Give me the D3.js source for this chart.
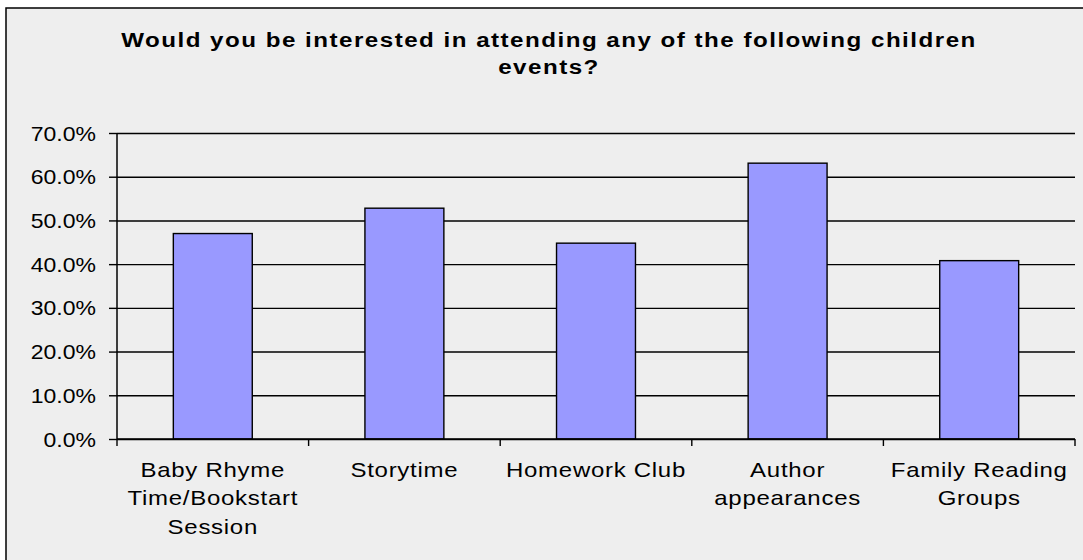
<!DOCTYPE html>
<html>
<head>
<meta charset="utf-8">
<script src="https://cdn.jsdelivr.net/npm/d3@7"></script>
<style>
  html, body { margin: 0; padding: 0; background: #ffffff; }
  svg { display: block; }
  text { font-family: "Liberation Sans", Arial, sans-serif; fill: #000; }
</style>
</head>
<body>
<svg id="chart" width="1083" height="560"></svg>
<script>
// ---- data ----
const titleLines = ["Would you be interested in attending any of the following children", "events?"];
const categories = ["Baby Rhyme Time/Bookstart Session", "Storytime", "Homework Club", "Author appearances", "Family Reading Groups"];
const categoryLabelLines = [["Baby Rhyme", "Time/Bookstart", "Session"], ["Storytime"], ["Homework Club"], ["Author", "appearances"], ["Family Reading", "Groups"]];
const values = [0.470, 0.528, 0.448, 0.631, 0.408];
const yTicks = [0, 0.1, 0.2, 0.3, 0.4, 0.5, 0.6, 0.7];

// ---- layout ----
const svg = d3.select("#chart");
const W = 1083, H = 560;
const plot = { left: 117, right: 1075, top: 133, bottom: 439 };
const sx = 1.2; // horizontal text stretch seen in the reference

// background frame
svg.append("rect")
  .attr("x", 6).attr("y", 8)
  .attr("width", W + 20).attr("height", H + 20)
  .attr("fill", "#eeeeee")
  .attr("stroke", "#000").attr("stroke-width", 1.5);

// title
const titleCx = 549;
const tsx = 1.15;
titleLines.forEach((t, i) => {
  svg.append("text")
    .attr("transform", `scale(${tsx},1)`)
    .attr("x", titleCx / tsx)
    .attr("y", 47 + i * 27)
    .attr("text-anchor", "middle")
    .attr("font-size", 21)
    .attr("font-weight", "bold")
    .attr("letter-spacing", 1.3)
    .text(t);
});

const x = d3.scaleBand().domain(categories).range([plot.left, plot.right]).padding(0);
const y = d3.scaleLinear().domain([0, 0.7]).range([plot.bottom, plot.top]);

// gridlines
const grid = svg.append("g")
  .attr("transform", `translate(${plot.left},0)`)
  .call(d3.axisLeft(y).tickValues(yTicks).tickSize(-(plot.right - plot.left)).tickFormat(""));
grid.select(".domain").remove();
grid.selectAll("line").attr("stroke", "#000").attr("stroke-width", 1.4);

// bars
const barW = x.bandwidth() * 0.412;
svg.append("g").selectAll("rect")
  .data(values)
  .join("rect")
  .attr("x", (d, i) => x(categories[i]) + (x.bandwidth() - barW) / 2)
  .attr("y", d => y(d))
  .attr("width", barW)
  .attr("height", d => y(0) - y(d))
  .attr("fill", "#9999ff")
  .attr("stroke", "#000")
  .attr("stroke-width", 1.4);

// y axis
const yAxis = svg.append("g")
  .attr("transform", `translate(${plot.left},0)`)
  .call(d3.axisLeft(y).tickValues(yTicks).tickSize(8).tickFormat(d3.format(".1%")));
yAxis.select(".domain").attr("stroke", "#000").attr("stroke-width", 1.5).attr("d", `M0,${plot.top}V${plot.bottom}`);
yAxis.selectAll(".tick line").attr("stroke", "#000").attr("stroke-width", 1.4);
const ysx = 1.15;
yAxis.selectAll(".tick text")
  .attr("font-size", 20)
  .attr("font-family", "\"Liberation Sans\", Arial, sans-serif")
  .attr("transform", `scale(${ysx},1)`)
  .attr("x", -21 / ysx)
  .attr("dy", "0.35em")
  .attr("text-anchor", "end");

// x axis
const xAxis = svg.append("g")
  .attr("transform", `translate(0,${plot.bottom})`)
  .call(d3.axisBottom(x).tickSize(0).tickFormat(""));
xAxis.select(".domain").attr("stroke", "#000").attr("stroke-width", 1.5).attr("d", `M${plot.left},0H${plot.right}`);
// tick marks at band boundaries
const boundaries = categories.map(c => x(c)).concat([x.range()[1]]);
xAxis.selectAll(".bound").data(boundaries).join("line")
  .attr("class", "bound")
  .attr("x1", d => d).attr("x2", d => d)
  .attr("y1", 0).attr("y2", 7)
  .attr("stroke", "#000").attr("stroke-width", 1.4);

// category labels
xAxis.selectAll(".tick").each(function (c, i) {
  const t = d3.select(this).append("text")
    .attr("transform", `scale(${sx},1)`)
    .attr("text-anchor", "middle")
    .attr("font-size", 20)
    .attr("letter-spacing", 0.6)
    .attr("fill", "#000");
  categoryLabelLines[i].forEach((line, j) => {
    t.append("tspan").attr("x", 0).attr("y", 38 + j * 28.5).text(line);
  });
});
</script>
</body>
</html>
